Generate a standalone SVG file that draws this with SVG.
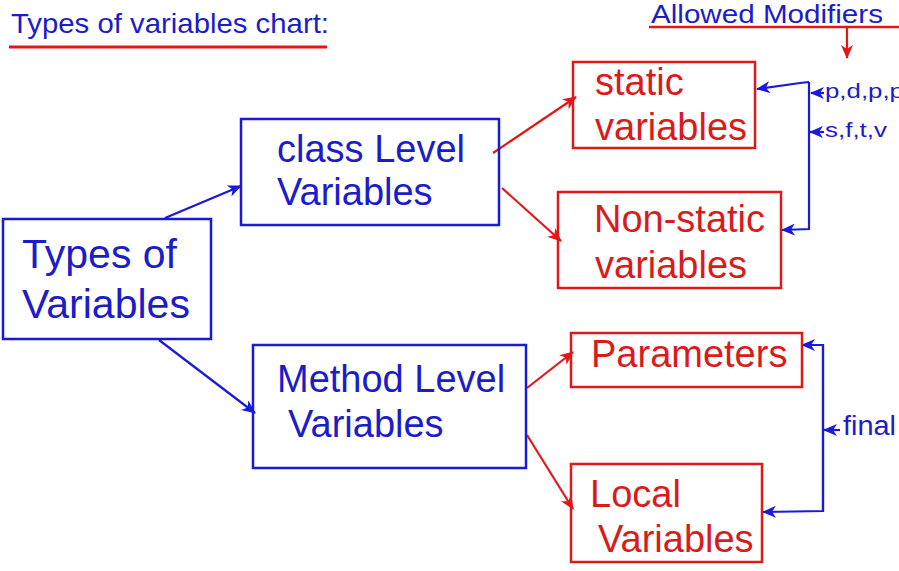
<svg xmlns="http://www.w3.org/2000/svg" width="899" height="571" viewBox="0 0 899 571">
<style>
text{font-family:"Liberation Sans",Arial,sans-serif}
.bt{fill:#1c1cc8}
.rt{fill:#d81c1c}
.bb{fill:none;stroke:#1a1ad8;stroke-width:2.5}
.rb{fill:none;stroke:#e01818;stroke-width:2.5}
.bl{fill:none;stroke:#1a1ad8;stroke-width:2.2}
.rl{fill:none;stroke:#e01818;stroke-width:2.2}
.big{font-size:38px}
</style>
<defs>
<marker id="ab" markerWidth="14" markerHeight="12" refX="13" refY="6" orient="auto" markerUnits="userSpaceOnUse">
<path d="M0,0 L14,6 L0,12 L4,6 z" fill="#1a1ad8"/>
</marker>
<marker id="ar" markerWidth="14" markerHeight="12" refX="13" refY="6" orient="auto" markerUnits="userSpaceOnUse">
<path d="M0,0 L14,6 L0,12 L4,6 z" fill="#e01818"/>
</marker>
</defs>
<rect width="899" height="571" fill="#ffffff"/>

<g id="title">
<text x="11" y="33" class="bt" font-size="28" textLength="318" lengthAdjust="spacingAndGlyphs">Types of variables chart:</text>
<line x1="9" y1="47" x2="327" y2="47" stroke="#e01818" stroke-width="3"/>
</g>

<g id="allowed-modifiers">
<text x="651" y="23" class="bt" font-size="25" textLength="232" lengthAdjust="spacingAndGlyphs">Allowed Modifiers</text>
<line x1="649" y1="27" x2="899" y2="27" stroke="#e01818" stroke-width="2.5"/>
</g>

<g id="connectors">
<line x1="847" y1="27" x2="847" y2="58" class="rl" marker-end="url(#ar)"/>
<line x1="165" y1="218" x2="241" y2="186" class="bl" marker-end="url(#ab)"/>
<line x1="159" y1="340" x2="255" y2="413" class="bl" marker-end="url(#ab)"/>
<line x1="493" y1="153" x2="576" y2="97" class="rl" marker-end="url(#ar)"/>
<line x1="502" y1="188" x2="561" y2="241" class="rl" marker-end="url(#ar)"/>
<line x1="527" y1="388" x2="573" y2="352" class="rl" marker-end="url(#ar)"/>
<line x1="527" y1="435" x2="573" y2="509" class="rl" marker-end="url(#ar)"/>
<polyline points="809,82 800,83 757,89" class="bl" marker-end="url(#ab)"/>
<polyline points="809,82 809,229 782,230" class="bl" marker-end="url(#ab)"/>
<line x1="824" y1="93" x2="811" y2="93" class="bl" marker-end="url(#ab)"/>
<line x1="824" y1="132" x2="810" y2="132" class="bl" marker-end="url(#ab)"/>
<polyline points="823,511 823,345 802,345" class="bl" marker-end="url(#ab)"/>
<polyline points="823,345 823,511 763,512" class="bl" marker-end="url(#ab)"/>
<line x1="840" y1="430" x2="824" y2="430" class="bl" marker-end="url(#ab)"/>
</g>

<g id="modifier-labels">
<text x="825" y="98" class="bt" font-size="20" textLength="79" lengthAdjust="spacingAndGlyphs">p,d,p,p</text>
<text x="825" y="137" class="bt" font-size="20" textLength="62" lengthAdjust="spacingAndGlyphs">s,f,t,v</text>
<text x="843" y="435" class="bt" font-size="27" textLength="53" lengthAdjust="spacingAndGlyphs">final</text>
</g>

<g id="types-of-variables">
<rect x="3" y="219" width="208" height="120" class="bb"/>
<text x="22" y="268" class="bt" font-size="41">Types of</text>
<text x="22" y="318" class="bt" font-size="41">Variables</text>
</g>

<g id="class-level">
<rect x="241" y="119" width="258" height="106" class="bb"/>
<text x="277" y="162" class="bt big">class Level</text>
<text x="277" y="205" class="bt big">Variables</text>
</g>

<g id="method-level">
<rect x="253" y="345" width="273" height="123" class="bb"/>
<text x="277" y="392" class="bt big">Method Level</text>
<text x="288" y="437" class="bt big">Variables</text>
</g>

<g id="static-variables">
<rect x="573" y="62" width="182" height="86" class="rb"/>
<text x="595" y="95" class="rt big">static</text>
<text x="595" y="140" class="rt big">variables</text>
</g>

<g id="non-static-variables">
<rect x="558" y="192" width="223" height="96" class="rb"/>
<text x="594" y="232" class="rt big">Non-static</text>
<text x="595" y="278" class="rt big">variables</text>
</g>

<g id="parameters">
<rect x="571" y="333" width="231" height="54" class="rb"/>
<text x="591" y="367" class="rt big">Parameters</text>
</g>

<g id="local-variables">
<rect x="571" y="464" width="191" height="98" class="rb"/>
<text x="590" y="507" class="rt big">Local</text>
<text x="598" y="552" class="rt big">Variables</text>
</g>
</svg>
